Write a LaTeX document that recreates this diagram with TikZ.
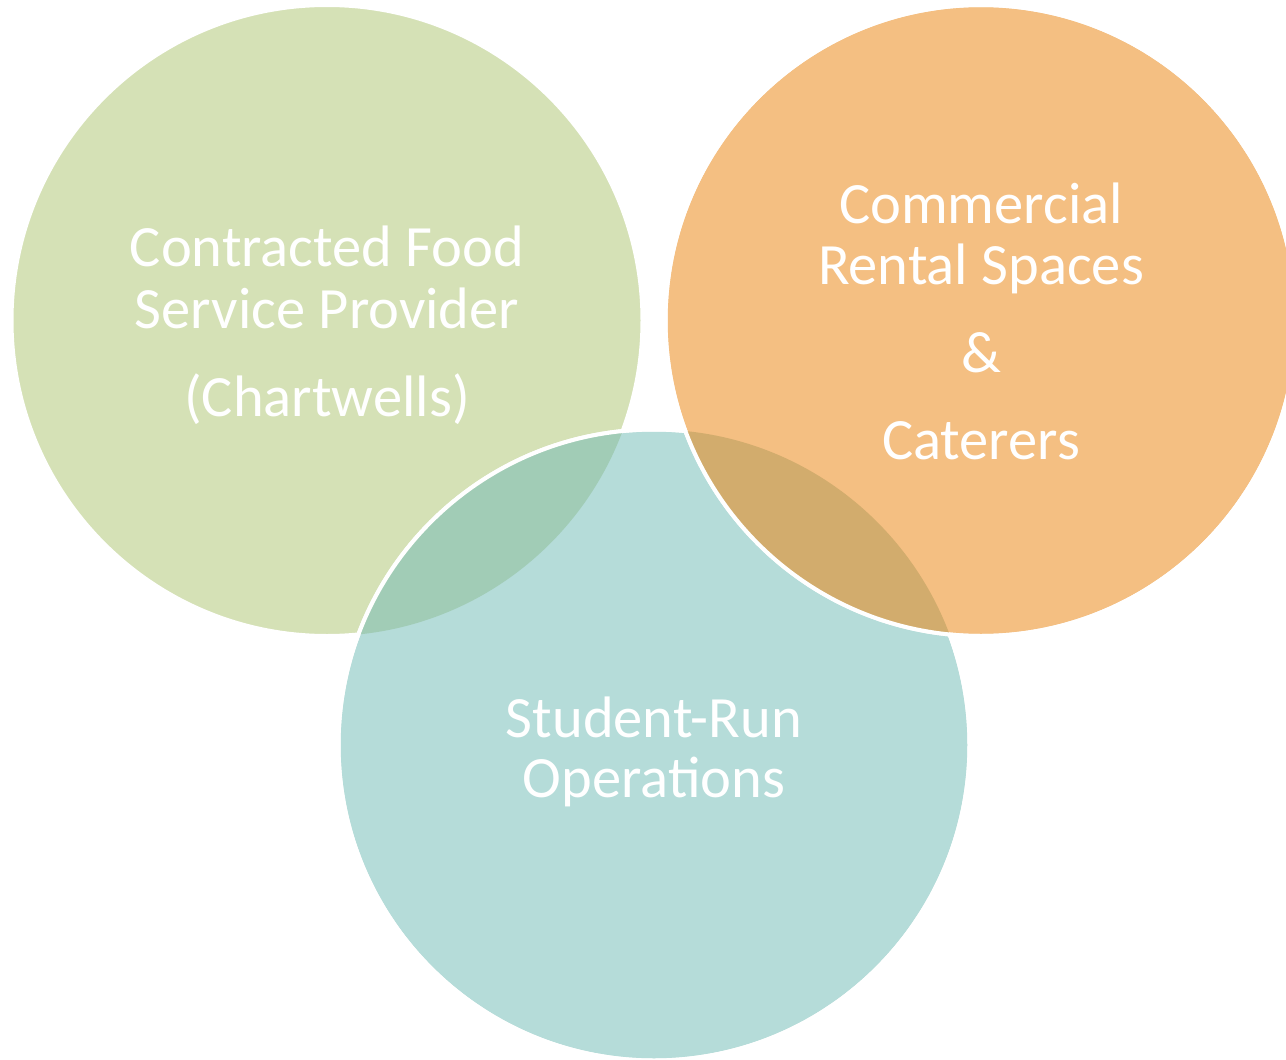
\documentclass[tikz,border=0pt]{standalone}
\usepackage{fontspec}
\setmainfont{Carlito}
\definecolor{cgreen}{HTML}{D5E1B6}
\definecolor{corange}{HTML}{F4BF82}
\definecolor{cteal}{HTML}{B5DCD9}
\definecolor{cgt}{HTML}{A1CCB6}
\definecolor{cot}{HTML}{D2AC6D}
\begin{document}
\begin{tikzpicture}[x=1pt,y=-1pt,
  disc/.style={circle, minimum size=631pt, inner sep=0pt, draw=white, line width=4pt},
  txt/.style={text=white, align=center, inner sep=0pt},
  rim/.style={draw=white, line width=4pt}]
\useasboundingbox (0,0) rectangle (1286,1060);
\node[disc, fill=cgreen,
  label={[txt, name=foodtext, yshift=-4.5pt, font=\fontsize{58.5}{62}\selectfont]center:{Contracted Food\\Service Provider\\[26pt](Chartwells)}}]
  (food) at (327,320.5) {};
\node[disc, fill=cteal,
  label={[txt, name=studenttext, yshift=-6.5pt, font=\fontsize{58.5}{60}\selectfont]center:{Student-Run\\Operations}}]
  (student) at (654,745) {};
\begin{scope}
  \clip (food.center) circle [radius=315.5];
  \fill[cgt] (student.center) circle [radius=315.5];
\end{scope}
\draw[rim] (student.center) circle [radius=315.5];
\node[disc, fill=corange,
  label={[txt, name=rentaltext, yshift=-1pt, font=\fontsize{58.5}{61}\selectfont]center:{Commercial\\Rental Spaces\\[27pt]\&\\[26pt]Caterers}}]
  (rental) at (981,320.5) {};
\begin{scope}
  \clip (rental.center) circle [radius=315.5];
  \fill[cot] (student.center) circle [radius=315.5];
\end{scope}
\draw[rim] (rental.center) circle [radius=315.5];
\end{tikzpicture}
\end{document}
